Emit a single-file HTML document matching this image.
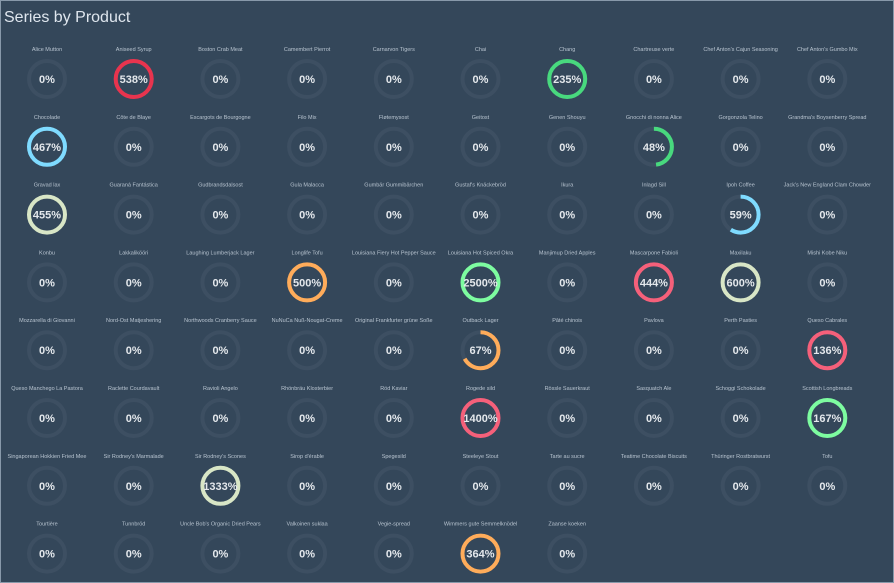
<!DOCTYPE html><html><head><style>
html,body{margin:0;padding:0;background:#34475a;}
#c{position:relative;width:892px;height:581px;border:1px solid #8899aa;background:#34475a;overflow:hidden;font-family:"Liberation Sans",sans-serif}
</style></head><body><div id="c"><svg id="s" width="892" height="581"></svg></div>
<script>
var names=["Alice Mutton","Aniseed Syrup","Boston Crab Meat","Camembert Pierrot","Carnarvon Tigers","Chai","Chang","Chartreuse verte","Chef Anton's Cajun Seasoning","Chef Anton's Gumbo Mix",
"Chocolade","Côte de Blaye","Escargots de Bourgogne","Filo Mix","Fløtemysost","Geitost","Genen Shouyu","Gnocchi di nonna Alice","Gorgonzola Telino","Grandma's Boysenberry Spread",
"Gravad lax","Guaraná Fantástica","Gudbrandsdalsost","Gula Malacca","Gumbär Gummibärchen","Gustaf's Knäckebröd","Ikura","Inlagd Sill","Ipoh Coffee","Jack's New England Clam Chowder",
"Konbu","Lakkalikööri","Laughing Lumberjack Lager","Longlife Tofu","Louisiana Fiery Hot Pepper Sauce","Louisiana Hot Spiced Okra","Manjimup Dried Apples","Mascarpone Fabioli","Maxilaku","Mishi Kobe Niku",
"Mozzarella di Giovanni","Nord-Ost Matjeshering","Northwoods Cranberry Sauce","NuNuCa Nuß-Nougat-Creme","Original Frankfurter grüne Soße","Outback Lager","Pâté chinois","Pavlova","Perth Pasties","Queso Cabrales",
"Queso Manchego La Pastora","Raclette Courdavault","Ravioli Angelo","Rhönbräu Klosterbier","Röd Kaviar","Rogede sild","Rössle Sauerkraut","Sasquatch Ale","Schoggi Schokolade","Scottish Longbreads",
"Singaporean Hokkien Fried Mee","Sir Rodney's Marmalade","Sir Rodney's Scones","Sirop d'érable","Spegesild","Steeleye Stout","Tarte au sucre","Teatime Chocolate Biscuits","Thüringer Rostbratwurst","Tofu",
"Tourtière","Tunnbröd","Uncle Bob's Organic Dried Pears","Valkoinen suklaa","Vegie-spread","Wimmers gute Semmelknödel","Zaanse koeken"];
var R="#e8344e",B="#7fdbff",G="#48d97e",C="#d8e6c6",O="#ffac5a",P="#f5607a",M="#7dfca0";
var vals={"Aniseed Syrup":[538,R],"Chang":[235,G],"Chocolade":[467,B],"Gnocchi di nonna Alice":[48,G],"Gravad lax":[455,C],"Ipoh Coffee":[59,B],"Longlife Tofu":[500,O],"Louisiana Hot Spiced Okra":[2500,M],"Mascarpone Fabioli":[444,P],"Maxilaku":[600,C],"Outback Lager":[67,O],"Queso Cabrales":[136,P],"Rogede sild":[1400,P],"Scottish Longbreads":[167,M],"Sir Rodney's Scones":[1333,C],"Wimmers gute Semmelknödel":[364,O]};
var h='<text x="3" y="21" font-size="16" fill="#dfe6ee">Series by Product</text>';
var r=18,L=2*Math.PI*r;
names.forEach(function(n,i){var col=i%10,row=Math.floor(i/10);var x=46+col*86.7,y=78+row*67.8;
h+='<text x="'+x+'" y="'+(y-28)+'" font-size="5.5" fill="#b8c4d0" text-anchor="middle">'+n.replace(/&/g,'&amp;')+'</text>';
h+='<circle cx="'+x+'" cy="'+y+'" r="'+r+'" fill="none" stroke="#3d4f62" stroke-width="4"/>';
var v=vals[n],t="0%";
if(v){t=v[0]+"%";var f=Math.min(v[0],100)/100;
h+='<circle cx="'+x+'" cy="'+y+'" r="'+r+'" fill="none" stroke="'+v[1]+'" stroke-width="4" stroke-dasharray="'+(f*L)+' '+L+'" transform="rotate(-90 '+x+' '+y+')"/>';}
h+='<text x="'+x+'" y="'+(y+4)+'" font-size="11" font-weight="bold" fill="#e4e8ec" text-anchor="middle">'+t+'</text>';});
document.getElementById('s').innerHTML=h;
</script></body></html>
